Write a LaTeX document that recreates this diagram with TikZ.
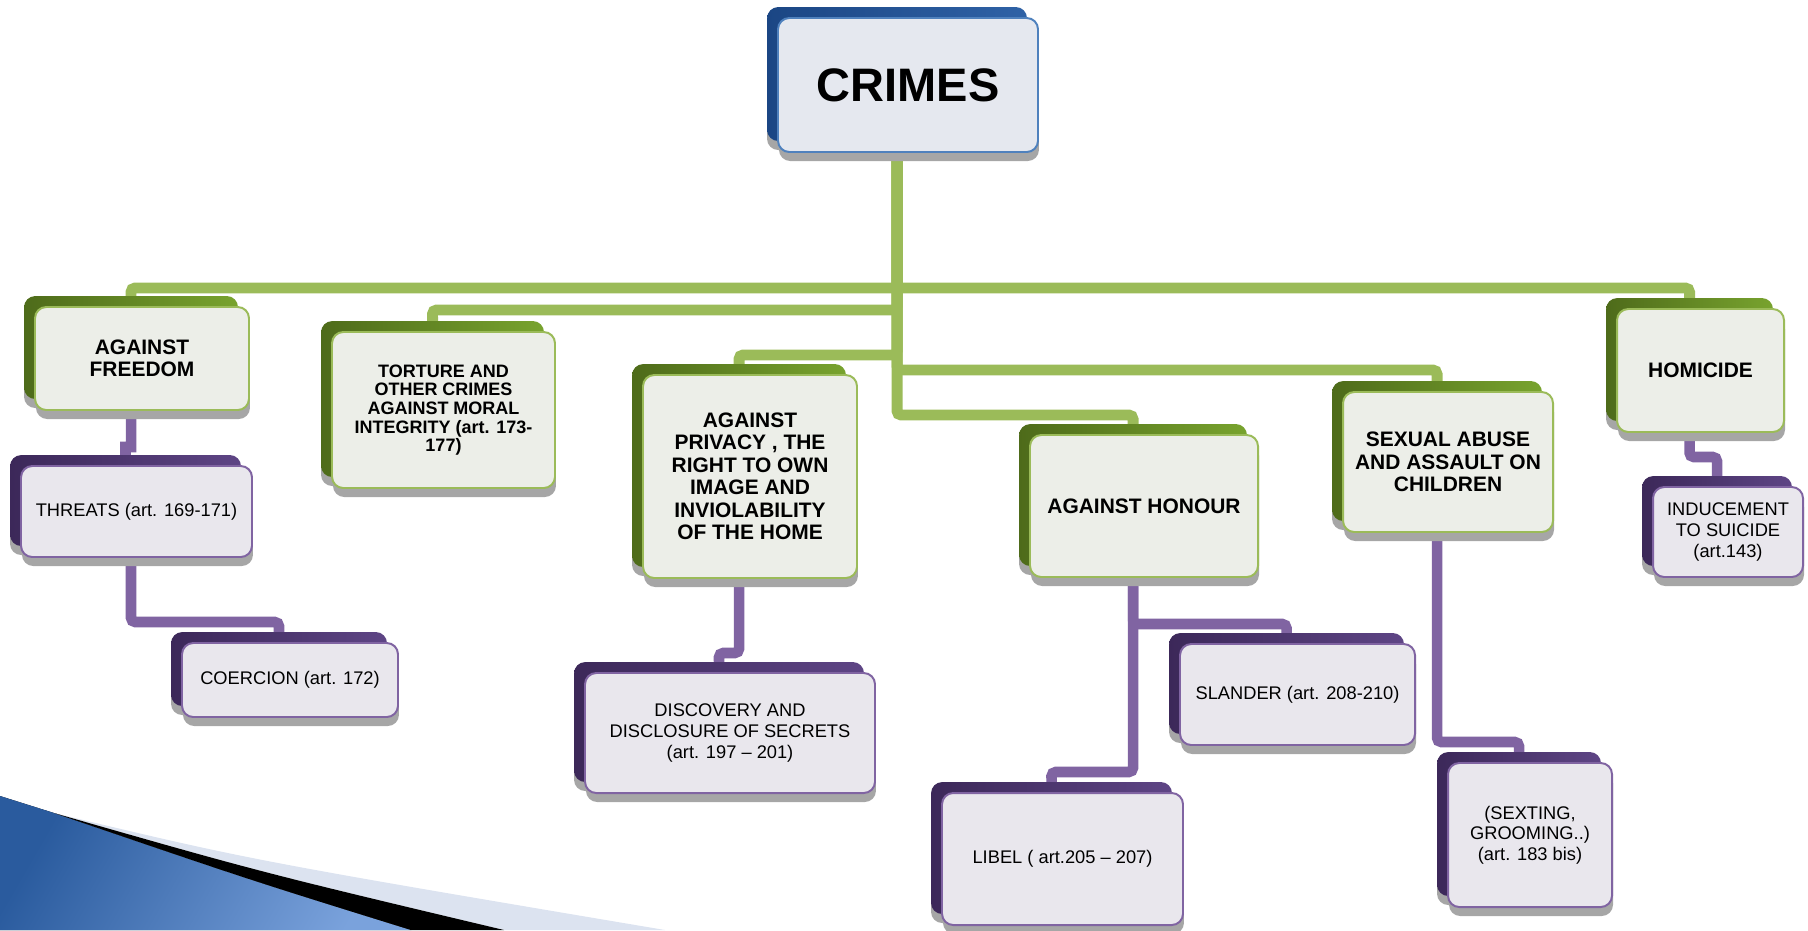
\documentclass[tikz,border=0pt]{standalone}
\usepackage{fontspec}
\setmainfont{Liberation Sans}
\usetikzlibrary{shadows, backgrounds}

\definecolor{grnline}{HTML}{9BBB59}
\definecolor{grnD}{HTML}{4E6B1A}
\definecolor{grnL}{HTML}{78A32E}
\definecolor{grnfront}{HTML}{ECEEE8}
\definecolor{purline}{HTML}{8064A2}
\definecolor{purD}{HTML}{3C2859}
\definecolor{purL}{HTML}{5E4585}
\definecolor{purfront}{HTML}{E9E7ED}
\definecolor{bluline}{HTML}{4F81BD}
\definecolor{bluD}{HTML}{1B4684}
\definecolor{bluL}{HTML}{2F62A6}
\definecolor{blufront}{HTML}{E5E8EF}
\definecolor{shadowgray}{HTML}{A6A6A6}
\definecolor{swdark}{HTML}{2A5B9E}
\definecolor{swlight}{HTML}{7AA2DC}
\definecolor{swband}{HTML}{DCE3F0}

\tikzset{
  px/.style 2 args={minimum width=#1*0.025cm, minimum height=#2*0.025cm},
  layered/.style 2 args={
    general shadow={shadow xshift=-7.8pt, shadow yshift=1.4pt, fill=shadowgray},
    general shadow={shadow xshift=0.7pt, shadow yshift=-6.4pt, fill=shadowgray},
    general shadow={shadow xshift=-7.8pt, shadow yshift=7.8pt, left color=#1, right color=#2}
  },
  box/.style={rounded corners=8pt, line width=1.4pt, align=center, inner sep=2pt},
  topbox/.style={box, layered={bluD}{bluL}, draw=bluline, fill=blufront,
    font=\fontsize{33.4}{38}\selectfont\bfseries},
  catbox/.style={box, layered={grnD}{grnL}, draw=grnline, fill=grnfront,
    font=\fontsize{14.9}{16}\selectfont\bfseries},
  subbox/.style={box, layered={purD}{purL}, draw=purline, fill=purfront,
    font=\fontsize{13}{14.6}\selectfont},
  grnlink/.style={grnline, line width=7.8pt, rounded corners=3pt},
  purlink/.style={purline, line width=7.5pt, rounded corners=3pt}
}

\begin{document}
\begin{tikzpicture}[x=0.025cm, y=-0.025cm]
  \useasboundingbox (0,0) rectangle (1808,930);

  % Root
  \node[topbox, px={260}{134}] (crimes) at (908,85) {CRIMES};

  % Categories
  \node[catbox, px={214}{103}] (freedom) at (142,358.5) {AGAINST\\FREEDOM};
  \node[catbox, px={223}{156}, font=\fontsize{12.8}{13.3}\selectfont\bfseries] (torture) at (443.5,410)
    {TORTURE AND\\OTHER CRIMES\\AGAINST MORAL\\INTEGRITY (art. 173-\\177)};
  \node[catbox, px={214}{203}] (privacy) at (750,476.5)
    {AGAINST\\PRIVACY , THE\\RIGHT TO OWN\\IMAGE AND\\INVIOLABILITY\\OF THE HOME};
  \node[catbox, px={228}{142}] (honour) at (1144,506) {AGAINST HONOUR};
  \node[catbox, px={210}{140}] (sexual) at (1448,462) {SEXUAL ABUSE\\AND ASSAULT ON\\CHILDREN};
  \node[catbox, px={167}{123}] (homicide) at (1700.5,370.5) {HOMICIDE};

  % Sub-items
  \node[subbox, px={231}{91}] (threats) at (136.5,511.5) {THREATS (art. 169-171)};
  \node[subbox, px={216}{74}] (coercion) at (290,680) {COERCION (art. 172)};
  \node[subbox, px={290}{120}] (discovery) at (730,733)
    {DISCOVERY AND\\DISCLOSURE OF SECRETS\\(art. 197 – 201)};
  \node[subbox, px={235}{101}] (slander) at (1297.5,694.5) {SLANDER (art. 208-210)};
  \node[subbox, px={241}{132}] (libel) at (1062.5,859) {LIBEL ( art.205 – 207)};
  \node[subbox, px={164}{144}] (sexting) at (1530,835) {(SEXTING,\\GROOMING..)\\(art. 183 bis)};
  \node[subbox, px={150}{90}] (inducement) at (1728,532) {INDUCEMENT\\TO SUICIDE\\(art.143)};

  \begin{scope}[on background layer]
    % Corner swoosh
    \fill[left color=swdark, right color=swlight, shading angle=60]
      (0,796) -- (54,813) .. controls (250,880) .. (411,930) -- (0,930) -- cycle;
    \fill[swband] (54,813) .. controls (250,860) .. (665,930) -- (504,930)
      .. controls (260,872) .. (54,813) -- cycle;
    \fill[black] (54,813) .. controls (260,872) .. (504,930) -- (411,930)
      .. controls (250,880) .. (54,813) -- cycle;

    % Green links
    \draw[grnlink] ([xshift=-7.8pt]crimes.south) |- (131,288) -- ([xshift=-7.8pt]freedom.north);
    \draw[grnlink] ([xshift=-7.8pt]crimes.south) |- (432.5,310) -- ([xshift=-7.8pt]torture.north);
    \draw[grnlink] ([xshift=-7.8pt]crimes.south) |- (739,355) -- ([xshift=-7.8pt]privacy.north);
    \draw[grnlink] ([xshift=-7.8pt]crimes.south) |- (1133,415) -- ([xshift=-7.8pt]honour.north);
    \draw[grnlink] ([xshift=-7.8pt]crimes.south) |- (1437,370) -- ([xshift=-7.8pt]sexual.north);
    \draw[grnlink] ([xshift=-7.8pt]crimes.south) |- (1689.5,288) -- ([xshift=-7.8pt]homicide.north);

    % Purple links
    \draw[purlink, sharp corners] ([xshift=-7.8pt]freedom.south) |- (125.5,447) -- ([xshift=-7.8pt]threats.north);
    \draw[purlink] ([xshift=-3.9pt]threats.south) |- (279,622) -- ([xshift=-7.8pt]coercion.north);
    \draw[purlink] ([xshift=-7.8pt]privacy.south) |- (719,653) -- ([xshift=-7.8pt]discovery.north);
    \draw[purlink] ([xshift=-7.8pt]honour.south) |- (1286.5,624) -- ([xshift=-7.8pt]slander.north);
    \draw[purlink] ([xshift=-7.8pt]honour.south) |- (1051.5,772) -- ([xshift=-7.8pt]libel.north);
    \draw[purlink] ([xshift=-7.8pt]sexual.south) |- (1519,742) -- ([xshift=-7.8pt]sexting.north);
    \draw[purlink] ([xshift=-7.8pt]homicide.south) |- (1717,457) -- ([xshift=-7.8pt]inducement.north);
  \end{scope}
\end{tikzpicture}
\end{document}
